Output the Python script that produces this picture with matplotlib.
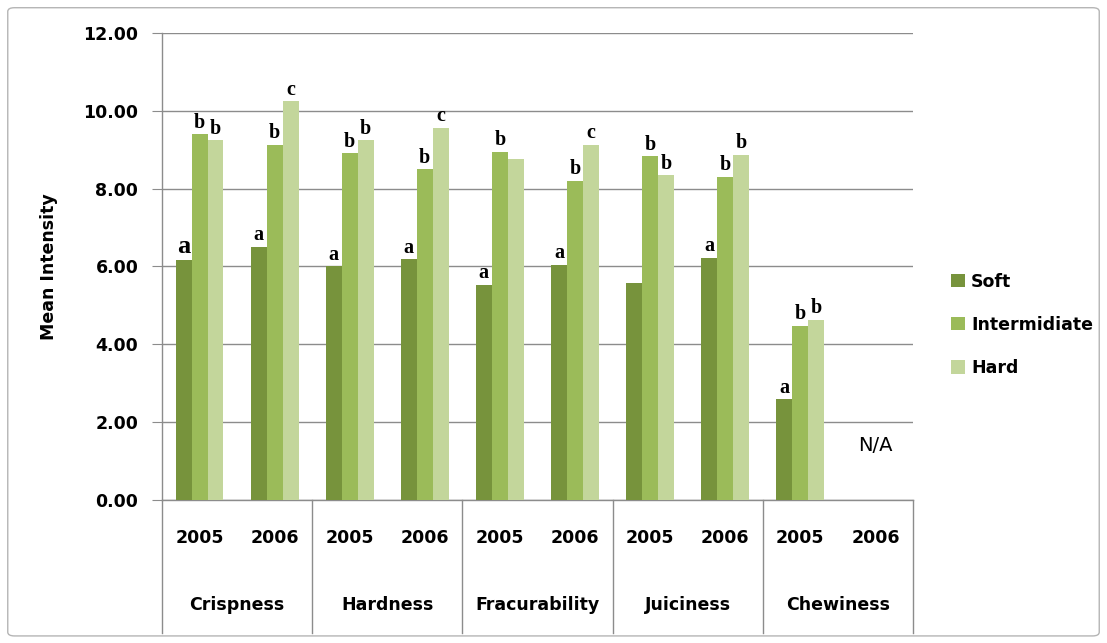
import numpy as np
from matplotlib import pyplot as plt
from matplotlib.patches import FancyBboxPatch, Patch
from matplotlib.transforms import blended_transform_factory

plt.rcParams['font.family'] = ['DejaVu Sans']

ATTRIBUTES = ['Crispness', 'Hardness', 'Fracurability', 'Juiciness', 'Chewiness']
YEARS = ['2005', '2006']
SERIES = ['Soft', 'Intermidiate', 'Hard']

# one value per attribute/year slot, None = not measured
soft = [6.17, 6.50, 6.00, 6.19, 5.53, 6.04, 5.57, 6.23, 2.59, None]
intermediate = [9.40, 9.13, 8.91, 8.50, 8.95, 8.20, 8.83, 8.31, 4.48, None]
hard = [9.24, 10.24, 9.24, 9.57, 8.76, 9.13, 8.34, 8.87, 4.63, None]

# significance letters above each bar
soft_letters = ['a', 'a', 'a', 'a', 'a', 'a', '', 'a', 'a', '']
intermediate_letters = ['b', 'b', 'b', 'b', 'b', 'b', 'b', 'b', 'b', '']
hard_letters = ['b', 'c', 'b', 'c', '', 'c', 'b', 'b', 'b', '']

COLORS = ['#77933C', '#9BBB59', '#C3D69B']
GRID = '#8c8c8c'

fig = plt.figure(figsize=(11.07, 6.43), dpi=100)
fig.patches.append(FancyBboxPatch((0.007, 0.011), 0.986, 0.977,
                                  boxstyle='round,pad=0,rounding_size=0.006',
                                  transform=fig.transFigure, fill=False,
                                  edgecolor='#b5b5b5', linewidth=1.0))

ax = fig.add_axes([0.1463, 0.2224, 0.6784, 0.7263])

n_slots = len(ATTRIBUTES) * len(YEARS)
x = np.arange(n_slots)
width = 0.213
offsets = [-width, 0, width]

for values, letters, color, off, name in zip(
        [soft, intermediate, hard],
        [soft_letters, intermediate_letters, hard_letters],
        COLORS, offsets, SERIES):
    xs = [xi + off for xi, v in zip(x, values) if v is not None]
    hs = [v for v in values if v is not None]
    ax.bar(xs, hs, width=width, color=color, label=name, zorder=3)
    for xi, v, lab in zip(x, values, letters):
        if v is None or not lab:
            continue
        big = (xi == 0 and name == 'Soft')
        ax.text(xi + off, v + 0.04, lab, ha='center', va='bottom',
                family='Liberation Serif', fontweight='bold',
                fontsize=19 if big else 14.5, zorder=4)

ax.set_xlim(-0.5, n_slots - 0.5)
ax.set_ylim(0, 12)
ax.set_yticks(np.arange(0, 12.01, 2))
ax.set_yticklabels(['{:.2f}'.format(v) for v in np.arange(0, 12.01, 2)],
                   fontsize=12.5, fontweight='bold')
ax.yaxis.grid(True, color=GRID, linewidth=1.0, zorder=0)
ax.set_axisbelow(True)
ax.tick_params(axis='y', length=7, color=GRID, pad=10)
ax.set_xticks([])
for side in ['top', 'right']:
    ax.spines[side].set_visible(False)
for side in ['left', 'bottom']:
    ax.spines[side].set_color(GRID)
    ax.spines[side].set_linewidth(1.0)

ax.set_ylabel('Mean Intensity', fontsize=12.5, fontweight='bold', labelpad=18)

# two-level category axis below the plot
tr = blended_transform_factory(ax.transData, ax.transAxes)
for i in range(n_slots):
    ax.text(i, -0.081, YEARS[i % 2], transform=tr, ha='center', va='center',
            fontsize=12.5, fontweight='bold')
for j, name in enumerate(ATTRIBUTES):
    ax.text(2 * j + 0.5, -0.225, name, transform=tr, ha='center', va='center',
            fontsize=12.5, fontweight='bold')
for b in np.arange(-0.5, n_slots, 2):
    ax.plot([b, b], [0, -0.285], transform=tr, color=GRID, linewidth=1.0,
            clip_on=False)

ax.text(9, 1.41, 'N/A', ha='center', va='center', fontsize=14)

handles = [Patch(facecolor=c) for c in COLORS]
ax.legend(handles, SERIES, loc='center left', bbox_to_anchor=(1.03, 0.375),
          frameon=False, handlelength=0.8, handleheight=0.8,
          handletextpad=0.35, labelspacing=1.45,
          prop={'size': 12.5, 'weight': 'bold'})

fig.savefig('out.png', dpi=100)
